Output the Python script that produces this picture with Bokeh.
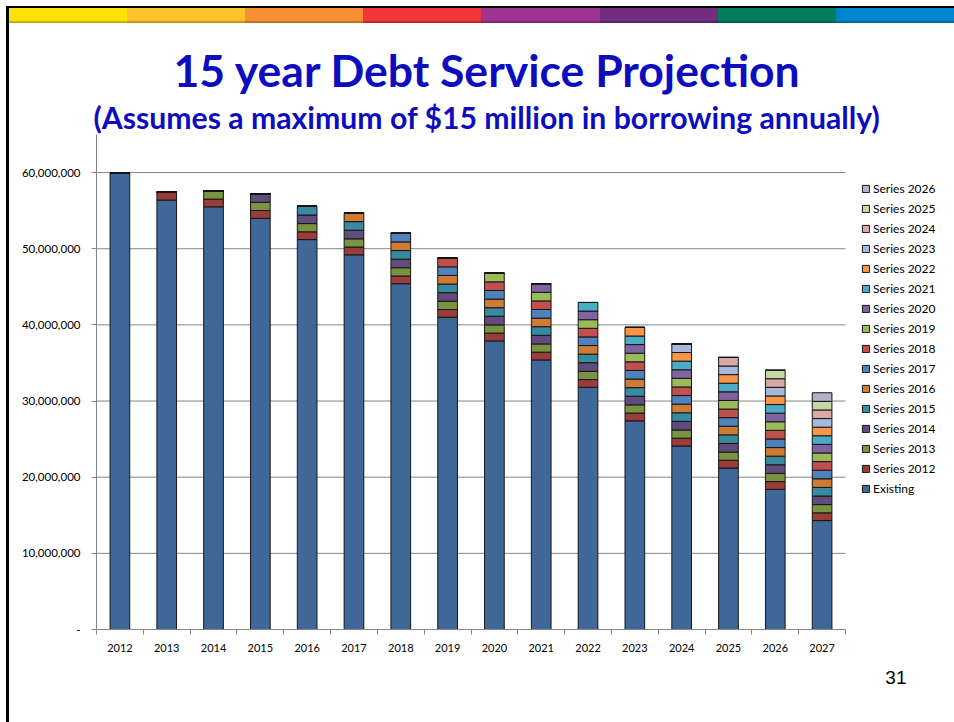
from bokeh.plotting import figure
from bokeh.models import (ColumnDataSource, Legend, LegendItem, FixedTicker,
                          NumeralTickFormatter, Range1d, Title)
from bokeh.embed import file_html
from bokeh.resources import INLINE

# ---------------- data ----------------
years = [2012, 2013, 2014, 2015, 2016, 2017, 2018, 2019,
         2020, 2021, 2022, 2023, 2024, 2025, 2026, 2027]

existing = [60000000, 56400000, 55500000, 54000000, 51200000, 49200000, 45400000, 41000000,
            37900000, 35400000, 31800000, 27400000, 24100000, 21200000, 18400000, 14300000]
series_2012 = [0, 1020000, 1020000, 1020000, 1020000, 1020000, 1020000, 1020000,
               1020000, 1020000, 1020000, 1020000, 1020000, 1020000, 1020000, 1020000]
series_2013 = [0, 0, 1080000, 1080000, 1080000, 1080000, 1080000, 1080000,
               1080000, 1080000, 1080000, 1080000, 1080000, 1080000, 1080000, 1080000]
series_2014 = [0, 0, 0, 1130000, 1130000, 1130000, 1130000, 1130000,
               1130000, 1130000, 1130000, 1130000, 1130000, 1130000, 1130000, 1130000]
series_2015 = [0, 0, 0, 0, 1130000, 1130000, 1130000, 1130000,
               1130000, 1130000, 1130000, 1130000, 1130000, 1130000, 1130000, 1130000]
series_2016 = [0, 0, 0, 0, 0, 1130000, 1130000, 1130000,
               1130000, 1130000, 1130000, 1130000, 1130000, 1130000, 1130000, 1130000]
series_2017 = [0, 0, 0, 0, 0, 0, 1130000, 1130000,
               1130000, 1130000, 1130000, 1130000, 1130000, 1130000, 1130000, 1130000]
series_2018 = [0, 0, 0, 0, 0, 0, 0, 1130000,
               1130000, 1130000, 1130000, 1130000, 1130000, 1130000, 1130000, 1130000]
series_2019 = [0, 0, 0, 0, 0, 0, 0, 0,
               1130000, 1130000, 1130000, 1130000, 1130000, 1130000, 1130000, 1130000]
series_2020 = [0, 0, 0, 0, 0, 0, 0, 0,
               0, 1130000, 1130000, 1130000, 1130000, 1130000, 1130000, 1130000]
series_2021 = [0, 0, 0, 0, 0, 0, 0, 0,
               0, 0, 1130000, 1130000, 1130000, 1130000, 1130000, 1130000]
series_2022 = [0, 0, 0, 0, 0, 0, 0, 0,
               0, 0, 0, 1130000, 1130000, 1130000, 1130000, 1130000]
series_2023 = [0, 0, 0, 0, 0, 0, 0, 0,
               0, 0, 0, 0, 1130000, 1130000, 1130000, 1130000]
series_2024 = [0, 0, 0, 0, 0, 0, 0, 0,
               0, 0, 0, 0, 0, 1130000, 1130000, 1130000]
series_2025 = [0, 0, 0, 0, 0, 0, 0, 0,
               0, 0, 0, 0, 0, 0, 1130000, 1130000]
series_2026 = [0, 0, 0, 0, 0, 0, 0, 0,
               0, 0, 0, 0, 0, 0, 0, 1130000]

series_labels = ["Existing", "Series 2012", "Series 2013", "Series 2014", "Series 2015",
                 "Series 2016", "Series 2017", "Series 2018", "Series 2019", "Series 2020",
                 "Series 2021", "Series 2022", "Series 2023", "Series 2024", "Series 2025",
                 "Series 2026"]
series_values = [existing, series_2012, series_2013, series_2014, series_2015, series_2016,
                 series_2017, series_2018, series_2019, series_2020, series_2021, series_2022,
                 series_2023, series_2024, series_2025, series_2026]
series_colors = ["#3F6899", "#9B3C3A", "#7A9340", "#624C7D", "#378A9F", "#D07B35",
                 "#4F81BD", "#C0504D", "#9BBB59", "#8064A2", "#4BACC6", "#F79646",
                 "#A7B9DA", "#D9A8A7", "#C6D8A8", "#B9AECC"]

y_ticks = [0, 10000000, 20000000, 30000000, 40000000, 50000000, 60000000]

title_text = "15 year Debt Service Projection"
subtitle_text = "(Assumes a maximum of $15 million in borrowing annually)"
page_number = "31"

stripe_colors = ["#FFE10A", "#FEC22B", "#F98F35", "#F0363A", "#9E3391", "#722C80",
                 "#007D5E", "#0086CD"]

TITLE_BLUE = "#0D0DBF"
GRID_GRAY = "#868686"

# ---------------- layout geometry ----------------
W, H = 954, 722
PLOT_LEFT, PLOT_RIGHT = 96, 845          # chart area (bars + axis) in page pixels
FRAME_RIGHT = 950                        # frame also holds the legend area
x_lo = years[0] - 0.5
x_hi = years[-1] + 0.5
x_end = x_lo + (x_hi - x_lo) * (FRAME_RIGHT - PLOT_LEFT) / (PLOT_RIGHT - PLOT_LEFT)

keys = ["s%d" % i for i in range(len(series_values))]
data = {"year": years}
for k, v in zip(keys, series_values):
    data[k] = v
src = ColumnDataSource(data)

p = figure(width=W, height=H, output_backend="svg", toolbar_location=None, tools="",
           x_range=Range1d(x_lo, x_end), y_range=Range1d(0, 65000000),
           min_border_left=PLOT_LEFT, min_border_right=W - FRAME_RIGHT, min_border_top=134,
           min_border_bottom=93, title=None)
p.outline_line_color = None
p.background_fill_color = "white"
p.border_fill_color = None
p.xgrid.visible = False
p.ygrid.visible = False

# horizontal gridlines limited to the chart area
grid_y = y_ticks[1:]
p.segment(x0=[x_lo] * len(grid_y), x1=[x_hi] * len(grid_y), y0=grid_y, y1=grid_y,
          line_color=GRID_GRAY, line_width=1)

renderers = p.vbar_stack(keys, x="year", width=0.42, source=src,
                         fill_color=series_colors, line_color="#151515", line_width=1)

p.yaxis.ticker = FixedTicker(ticks=y_ticks)
p.yaxis.formatter = NumeralTickFormatter(format="0,0")
p.yaxis.major_label_overrides = {0: "-"}
p.yaxis.axis_line_color = GRID_GRAY
p.yaxis.major_tick_line_color = GRID_GRAY
p.yaxis.major_tick_out = 5
p.yaxis.major_tick_in = 0
p.yaxis.minor_tick_line_color = None
p.yaxis.major_label_standoff = 11
p.yaxis.major_label_text_font = "Lato"
p.yaxis.major_label_text_font_size = "11.5px"
p.yaxis.major_label_text_color = "#000000"

boundaries = [y - 0.5 for y in years] + [years[-1] + 0.5]
p.xaxis.ticker = FixedTicker(ticks=years, minor_ticks=boundaries)
p.xaxis.bounds = (x_lo, x_hi)
p.xaxis.axis_line_color = GRID_GRAY
p.xaxis.major_tick_in = 0
p.xaxis.major_tick_out = 0
p.xaxis.minor_tick_in = 0
p.xaxis.minor_tick_out = 5
p.xaxis.minor_tick_line_color = GRID_GRAY
p.xaxis.major_label_standoff = 9
p.xaxis.major_label_text_font = "Lato"
p.xaxis.major_label_text_font_size = "11px"
p.xaxis.major_label_text_color = "#000000"

items = [LegendItem(label=series_labels[i], renderers=[renderers[i]])
         for i in range(len(renderers) - 1, -1, -1)]
legend = Legend(items=items, location=(765, 133), orientation="vertical",
                glyph_width=9, glyph_height=9, label_standoff=3, spacing=5,
                padding=0, margin=0, border_line_color=None, background_fill_alpha=0,
                label_text_font="Lato", label_text_font_size="12px",
                label_text_color="#000000", label_height=13)
p.add_layout(legend)

# titles (first added sits nearest the chart)
p.add_layout(Title(text=subtitle_text, align="left", offset=-3, standoff=0,
                   text_font="Lato", text_font_style="bold", text_font_size="30.2px",
                   text_color=TITLE_BLUE), "above")
p.add_layout(Title(text=title_text, align="left", offset=77, standoff=2,
                   text_font="Lato", text_font_style="bold", text_font_size="44.5px",
                   text_color=TITLE_BLUE), "above")

# page number below the axis
p.add_layout(Title(text=page_number, align="right", offset=FRAME_RIGHT - 906, standoff=28,
                   text_font="Liberation Sans", text_font_style="normal",
                   text_font_size="19px", text_color="#000000"), "below")

# slide decoration: colour stripe and the black frame lines (page background)
seg = (W - 9) / len(stripe_colors)
stops = ", ".join("%s %.1fpx %.1fpx" % (c, i * seg, (i + 1) * seg)
                  for i, c in enumerate(stripe_colors))
p.styles = {
    "background-color": "white",
    "background-image": ("linear-gradient(#000, #000), linear-gradient(#000, #000), "
                         "linear-gradient(rgba(0,0,0,0.22), rgba(0,0,0,0.22)), "
                         "linear-gradient(to right, %s)" % stops),
    "background-size": "948px 2px, 3px 716px, 945px 2px, 945px 15px",
    "background-position": "6px 6px, 6px 6px, 9px 21px, 9px 8px",
    "background-repeat": "no-repeat",
}

open("out.html", "w").write(file_html(p, INLINE))
